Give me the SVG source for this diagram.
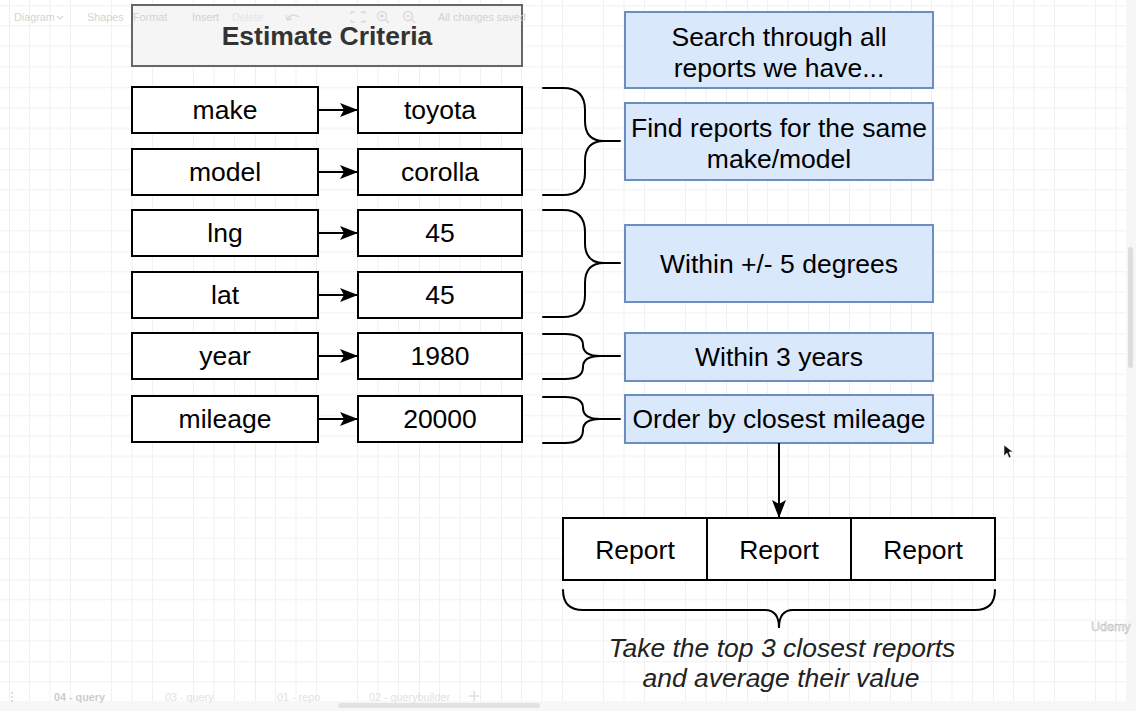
<svg xmlns="http://www.w3.org/2000/svg" width="1136" height="711" viewBox="0 0 1136 711">
  <defs>
    <pattern id="grid" patternUnits="userSpaceOnUse" x="9" y="5.3" width="82" height="82">
      <path d="M20.5,0 V82 M41,0 V82 M61.5,0 V82 M0,20.5 H82 M0,41 H82 M0,61.5 H82" stroke="#f1f1f1" stroke-width="1" fill="none"/>
      <path d="M0,0 V82 M0,0 H82" stroke="#e4e4e4" stroke-width="1.2" fill="none"/>
    </pattern>
    <marker id="arrow" viewBox="0 0 18 14" refX="18" refY="7" markerWidth="18" markerHeight="14" markerUnits="userSpaceOnUse" orient="auto">
      <path d="M0,0 L18,7 L0,14 L4,7 Z" fill="#000"/>
    </marker>
    <style>
      .box { fill:#fff; stroke:#000; stroke-width:2; }
      .blue { fill:#dae8fc; stroke:#6c8ebf; stroke-width:2; }
      .t { font-family:"Liberation Sans", Arial, Helvetica, sans-serif; font-size:26.5px; text-anchor:middle; fill:#000; }
      .it { font-style:italic; fill:#222; }
      .brace { fill:none; stroke:#000; stroke-width:2; stroke-linecap:round; }
      .conn { fill:none; stroke:#000; stroke-width:2; }
      .ui { font-family:"Liberation Sans", Arial, sans-serif; font-size:10.8px; fill:#cfcfcf; }
      .uiicon { fill:none; stroke:#d6d6d6; stroke-width:1.3; }
    </style>
  </defs>

  <!-- canvas background -->
  <rect x="0" y="0" width="1136" height="711" fill="#ffffff"/>
  <rect x="0" y="0" width="1126" height="701" fill="url(#grid)"/>
  <rect x="1126" y="0" width="10" height="711" fill="#f6f6f6"/>
  <rect x="1128" y="247" width="5" height="121" rx="2.5" fill="#dddddd"/>

  <!-- title -->
  <g id="estimate-criteria">
    <rect x="132" y="5" width="390" height="61" fill="#f5f5f5" stroke="#666666" stroke-width="2"/>
    <text x="327" y="45" class="t" style="font-weight:bold;fill:#333333">Estimate Criteria</text>
  </g>

  <!-- left keys -->
  <g id="key-make"><rect class="box" x="132" y="87" width="186" height="46"/><text class="t" x="225" y="119">make</text></g>
  <g id="key-model"><rect class="box" x="132" y="149" width="186" height="46"/><text class="t" x="225" y="181">model</text></g>
  <g id="key-lng"><rect class="box" x="132" y="210" width="186" height="46"/><text class="t" x="225" y="242">lng</text></g>
  <g id="key-lat"><rect class="box" x="132" y="272" width="186" height="46"/><text class="t" x="225" y="304">lat</text></g>
  <g id="key-year"><rect class="box" x="132" y="333" width="186" height="46"/><text class="t" x="225" y="365">year</text></g>
  <g id="key-mileage"><rect class="box" x="132" y="396" width="186" height="46"/><text class="t" x="225" y="428">mileage</text></g>

  <!-- values -->
  <g id="val-toyota"><rect class="box" x="358" y="87" width="164" height="46"/><text class="t" x="440" y="119">toyota</text></g>
  <g id="val-corolla"><rect class="box" x="358" y="149" width="164" height="46"/><text class="t" x="440" y="181">corolla</text></g>
  <g id="val-lng"><rect class="box" x="358" y="210" width="164" height="46"/><text class="t" x="440" y="242">45</text></g>
  <g id="val-lat"><rect class="box" x="358" y="272" width="164" height="46"/><text class="t" x="440" y="304">45</text></g>
  <g id="val-year"><rect class="box" x="358" y="333" width="164" height="46"/><text class="t" x="440" y="365">1980</text></g>
  <g id="val-mileage"><rect class="box" x="358" y="396" width="164" height="46"/><text class="t" x="440" y="428">20000</text></g>

  <!-- blue step boxes -->
  <g id="step-search">
    <rect class="blue" x="625" y="12" width="308" height="76"/>
    <text class="t" x="779" y="46">Search through all</text>
    <text class="t" x="779" y="77">reports we have...</text>
  </g>
  <g id="step-makemodel">
    <rect class="blue" x="625" y="103" width="308" height="77"/>
    <text class="t" x="779" y="137">Find reports for the same</text>
    <text class="t" x="779" y="168">make/model</text>
  </g>
  <g id="step-degrees">
    <rect class="blue" x="625" y="225" width="308" height="77"/>
    <text class="t" x="779" y="273">Within +/- 5 degrees</text>
  </g>
  <g id="step-years">
    <rect class="blue" x="625" y="333" width="308" height="48"/>
    <text class="t" x="779" y="366">Within 3 years</text>
  </g>
  <g id="step-mileage">
    <rect class="blue" x="625" y="395" width="308" height="48"/>
    <text class="t" x="779" y="428">Order by closest mileage</text>
  </g>

  <!-- reports -->
  <g id="reports">
    <rect class="box" x="563" y="518" width="432" height="62"/>
    <line class="conn" x1="707" y1="518" x2="707" y2="580"/>
    <line class="conn" x1="851" y1="518" x2="851" y2="580"/>
    <text class="t" x="635" y="559">Report</text>
    <text class="t" x="779" y="559">Report</text>
    <text class="t" x="923" y="559">Report</text>
  </g>

  <g id="summary">
    <text class="t it" x="782" y="657">Take the top 3 closest reports</text>
    <text class="t it" x="781" y="687">and average their value</text>
  </g>

  <!-- connectors -->
  <g id="connectors">
    <line class="conn" x1="318" y1="110" x2="358" y2="110" marker-end="url(#arrow)"/>
    <line class="conn" x1="318" y1="172" x2="358" y2="172" marker-end="url(#arrow)"/>
    <line class="conn" x1="318" y1="233" x2="358" y2="233" marker-end="url(#arrow)"/>
    <line class="conn" x1="318" y1="295" x2="358" y2="295" marker-end="url(#arrow)"/>
    <line class="conn" x1="318" y1="356" x2="358" y2="356" marker-end="url(#arrow)"/>
    <line class="conn" x1="318" y1="419" x2="358" y2="419" marker-end="url(#arrow)"/>
    <line class="conn" x1="779" y1="443" x2="779" y2="518" marker-end="url(#arrow)"/>

    <path class="brace" d="M543,88 H563 Q585,88 585,110 V121 Q585,141 604,141 H620 M604,141 Q585,141 585,161 V173 Q585,195 563,195 H543"/>
    <path class="brace" d="M543,210 H563 Q585,210 585,232 V243 Q585,263 604,263 H620 M604,263 Q585,263 585,283 V295 Q585,317 563,317 H543"/>
    <path class="brace" d="M543,334 H565 Q583,334 583,345 Q583,356 600,356 H620 M600,356 Q583,356 583,367 Q583,379 565,379 H543"/>
    <path class="brace" d="M543,397 H565 Q583,397 583,408 Q583,419 600,419 H620 M600,419 Q583,419 583,430 Q583,443 565,443 H543"/>
    <path class="brace" d="M563,590 Q563,610 583,610 H765 Q779,610 779,628 Q779,610 793,610 H975 Q995,610 995,590"/>
  </g>

  <!-- faint editor chrome -->
  <g id="toolbar" opacity="0.9">
    <text class="ui" x="14" y="21">Diagram</text>
    <path class="uiicon" d="M57,16 L60,19 L63,16"/>
    <text class="ui" x="87" y="21">Shapes</text>
    <text class="ui" x="133" y="21">Format</text>
    <text class="ui" x="192" y="21">Insert</text>
    <text class="ui" x="232" y="21" style="fill:#e4e4e4">Delete</text>
    <path class="uiicon" d="M287,20 Q291,12 299,17 M287,20 L286,15 M287,20 L292,19"/>
    <path class="uiicon" d="M351,14 V12 H355 M361,12 H365 V14 M365,20 V22 H361 M355,22 H351 V20"/>
    <circle class="uiicon" cx="382" cy="16" r="4.5"/>
    <path class="uiicon" d="M385,19 L389,23 M380,16 H384 M382,14 V18"/>
    <circle class="uiicon" cx="408" cy="16" r="4.5"/>
    <path class="uiicon" d="M411,19 L415,23 M406,16 H410"/>
    <text class="ui" x="438" y="21">All changes saved</text>
  </g>

  <g id="udemy-mark">
    <text x="1091" y="631" style="font-family:'Liberation Sans', Arial, sans-serif;font-size:12.5px;fill:#ffffff;stroke:#bdbdbd;stroke-width:0.6">Udemy</text>
  </g>

  <g id="cursor">
    <path d="M1004,445 L1004,456 L1007,453 L1009,458 L1011,457 L1009,452 L1013,452 Z" fill="#111" stroke="#fff" stroke-width="0.6"/>
  </g>

  <g id="tabs">
    <rect x="0" y="701" width="1136" height="10" fill="#f7f7f7"/>
    <circle cx="12" cy="693" r="1" fill="#d4d4d4"/>
    <circle cx="12" cy="697" r="1" fill="#d4d4d4"/>
    <circle cx="12" cy="701" r="1" fill="#d4d4d4"/>
    <text class="ui" x="54" y="701" style="font-weight:bold;fill:#cccccc">04 - query</text>
    <text class="ui" x="165" y="701" style="fill:#e2e2e2">03 - query</text>
    <text class="ui" x="277" y="701" style="fill:#e2e2e2">01 - repo</text>
    <text class="ui" x="369" y="701" style="fill:#e2e2e2">02 - querybuilder</text>
    <path d="M474,691 V701 M469,696 H479" stroke="#e0e0e0" stroke-width="1.5"/>
    <rect x="338" y="703" width="202" height="5" rx="2.5" fill="#e2e2e2"/>
  </g>
</svg>
